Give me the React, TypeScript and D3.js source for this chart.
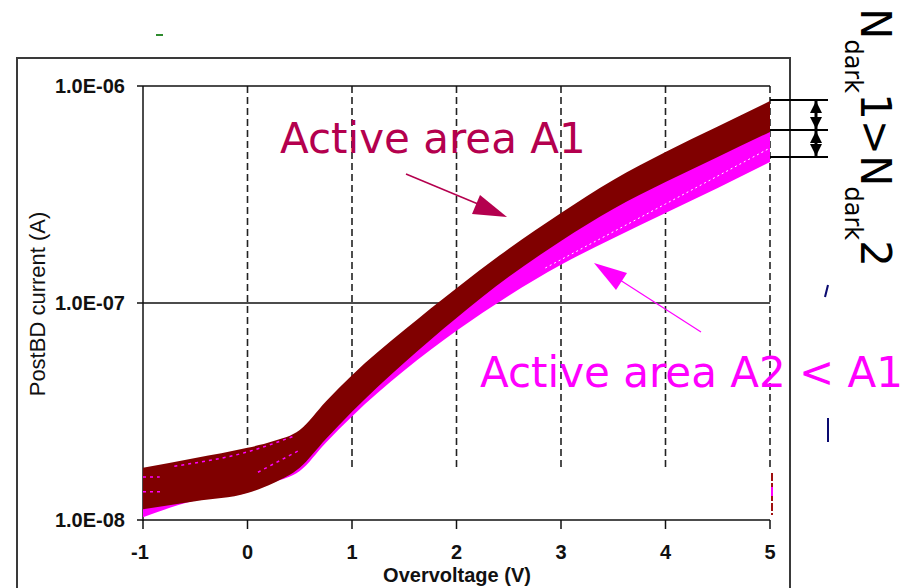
import React, { useEffect, useRef } from 'react';
import * as d3 from 'd3';

// Overvoltage sweep (V)
const voltages = [-1, -0.5, 0, 0.25, 0.5, 0.75, 1, 1.5, 2, 2.5, 3, 3.5, 4, 4.5, 5];

// Envelope of the A1 curve family (A)
const a1Upper = [1.74e-8, 1.93e-8, 2.15e-8, 2.31e-8, 2.6e-8, 3.52e-8, 4.65e-8, 7.5e-8, 1.17e-7, 1.78e-7, 2.6e-7, 3.69e-7, 4.96e-7, 6.5e-7, 8.53e-7];
const a1Lower = [1.12e-8, 1.22e-8, 1.33e-8, 1.48e-8, 1.74e-8, 2.36e-8, 3.15e-8, 5.3e-8, 8.53e-8, 1.32e-7, 1.93e-7, 2.71e-7, 3.61e-7, 4.71e-7, 6.14e-7];

// Envelope of the A2 curve family (A)
const a2Upper = [1.66e-8, 1.83e-8, 1.99e-8, 2.15e-8, 2.34e-8, 3.21e-8, 4.25e-8, 6.75e-8, 1.03e-7, 1.57e-7, 2.2e-7, 3.05e-7, 4.02e-7, 5.24e-7, 6.54e-7];
const a2Lower = [1.03e-8, 1.23e-8, 1.34e-8, 1.49e-8, 1.68e-8, 2.27e-8, 3.0e-8, 4.88e-8, 7.44e-8, 1.08e-7, 1.5e-7, 1.99e-7, 2.6e-7, 3.39e-7, 4.47e-7];

// single A2 curves showing through the A1 band at low bias
const streaks = [
  { v: [-0.7, 0, 0.45], i: [1.77e-8, 2.06e-8, 2.44e-8] },
  { v: [-1, -0.84], i: [1.58e-8, 1.58e-8] },
  { v: [-1, -0.82], i: [1.35e-8, 1.35e-8] },
  { v: [0.1, 0.5], i: [1.66e-8, 2.1e-8] },
];
const gapLineV = [2.85, 4, 5];
const gapLineI = [1.45e-7, 2.86e-7, 5.18e-7];

// N_dark bracket levels at 5 V
const bracketLevels = [8.62e-7, 6.27e-7, 4.71e-7];

const xTicks = [-1, 0, 1, 2, 3, 4, 5];
const yTicks = [1e-8, 1e-7, 1e-6];
const yTickLabels = ['1.0E-08', '1.0E-07', '1.0E-06'];

const W = 910;
const H = 588;

const App: React.FC = () => {
  const svgRef = useRef<SVGSVGElement>(null);

  useEffect(() => {
    if (!svgRef.current) return;
    const svg = d3.select(svgRef.current);
    svg.selectAll('*').remove();

    const x = d3.scaleLinear().domain([-1, 5]).range([143, 770]);
    const y = d3.scaleLog().domain([1e-8, 1e-6]).range([520, 86]);
    const axisFont = '"Liberation Sans", Arial, sans-serif';
    const noteFont = '"DejaVu Sans", sans-serif';

    svg.append('rect').attr('width', W).attr('height', H).attr('fill', '#fff');

    // outer frame
    svg.append('rect')
      .attr('x', 17).attr('y', 58)
      .attr('width', 773).attr('height', 560)
      .attr('fill', 'none').attr('stroke', '#3a3a3a').attr('stroke-width', 2);

    // small green dash above frame
    svg.append('line')
      .attr('x1', 156).attr('x2', 163).attr('y1', 35).attr('y2', 35)
      .attr('stroke', '#2e8b2e').attr('stroke-width', 2);

    const g = svg.append('g');

    // vertical dashed grid
    g.selectAll('.vgrid')
      .data(xTicks.slice(1))
      .enter().append('line')
      .attr('x1', d => x(d)).attr('x2', d => x(d))
      .attr('y1', y(1e-6)).attr('y2', 468)
      .attr('stroke', '#222').attr('stroke-width', 1.6)
      .attr('stroke-dasharray', '7,4');

    // horizontal solid lines at decades
    g.selectAll('.hgrid')
      .data(yTicks)
      .enter().append('line')
      .attr('x1', 137).attr('x2', x(5))
      .attr('y1', d => y(d)).attr('y2', d => y(d))
      .attr('stroke', '#111').attr('stroke-width', 1.5);

    // y axis
    g.append('line')
      .attr('x1', x(-1)).attr('x2', x(-1))
      .attr('y1', y(1e-6)).attr('y2', y(1e-8) + 1)
      .attr('stroke', '#111').attr('stroke-width', 1.5);

    // x ticks
    g.selectAll('.xtick')
      .data(xTicks)
      .enter().append('line')
      .attr('x1', d => x(d)).attr('x2', d => x(d))
      .attr('y1', y(1e-8)).attr('y2', y(1e-8) + 9)
      .attr('stroke', '#111').attr('stroke-width', 1.5);

    g.selectAll('.xlabel')
      .data(xTicks)
      .enter().append('text')
      .attr('x', d => x(d) - (d < 0 ? 3 : 0)).attr('y', 559)
      .attr('text-anchor', 'middle')
      .style('font-family', axisFont).style('font-weight', 'bold').style('font-size', '20px')
      .attr('fill', '#111')
      .text(d => String(d));

    g.selectAll('.ylabel')
      .data(yTicks)
      .enter().append('text')
      .attr('x', 125).attr('y', d => y(d) + 7)
      .attr('text-anchor', 'end')
      .style('font-family', axisFont).style('font-weight', 'bold').style('font-size', '20px')
      .attr('fill', '#111')
      .text((_, i) => yTickLabels[i]);

    svg.append('text')
      .attr('x', 457).attr('y', 582)
      .attr('text-anchor', 'middle')
      .style('font-family', axisFont).style('font-weight', 'bold').style('font-size', '20px')
      .attr('fill', '#111')
      .text('Overvoltage (V)');

    svg.append('text')
      .attr('transform', 'translate(45,304) rotate(-90)')
      .attr('text-anchor', 'middle')
      .style('font-family', axisFont).style('font-size', '22px')
      .attr('fill', '#111')
      .text('PostBD current (A)');

    // bands
    const band = (upper: number[], lower: number[]) =>
      d3.area<number>()
        .x((_, i) => x(voltages[i]))
        .y0((_, i) => y(lower[i]))
        .y1((_, i) => y(upper[i]))
        .curve(d3.curveMonotoneX)(voltages);

    g.append('path').attr('d', band(a2Upper, a2Lower)).attr('fill', '#ff00ff');
    g.append('path').attr('d', band(a1Upper, a1Lower)).attr('fill', '#800000');

    const line = d3.line<[number, number]>()
      .x(d => x(d[0]))
      .y(d => y(d[1]))
      .curve(d3.curveMonotoneX);

    streaks.forEach(s => {
      g.append('path')
        .attr('d', line(s.v.map((v, i) => [v, s.i[i]] as [number, number])))
        .attr('fill', 'none')
        .attr('stroke', '#ff00ff')
        .attr('stroke-width', 1.5)
        .attr('stroke-dasharray', '3,4');
    });

    g.append('path')
      .attr('d', line(gapLineV.map((v, i) => [v, gapLineI[i]] as [number, number])))
      .attr('fill', 'none')
      .attr('stroke', '#fff')
      .attr('stroke-width', 1)
      .attr('stroke-dasharray', '2,3');

    // stray trace at right edge
    g.append('line')
      .attr('x1', x(5) + 2).attr('x2', x(5) + 2).attr('y1', 473).attr('y2', 515)
      .attr('stroke', '#a01010').attr('stroke-width', 2).attr('stroke-dasharray', '8,2');
    g.append('line')
      .attr('x1', x(5) + 2).attr('x2', x(5) + 2).attr('y1', 487).attr('y2', 496)
      .attr('stroke', '#ff00ff').attr('stroke-width', 2);

    // N_dark brackets
    g.selectAll('.bracket')
      .data(bracketLevels)
      .enter().append('line')
      .attr('x1', x(5)).attr('x2', 828)
      .attr('y1', d => y(d)).attr('y2', d => y(d))
      .attr('stroke', '#000').attr('stroke-width', 2);

    const ax = 816;
    for (let k = 0; k < bracketLevels.length - 1; k++) {
      const y1 = y(bracketLevels[k]) + 1;
      const y2 = y(bracketLevels[k + 1]) - 1;
      g.append('line')
        .attr('x1', ax).attr('x2', ax).attr('y1', y1).attr('y2', y2)
        .attr('stroke', '#000').attr('stroke-width', 3);
      g.append('path')
        .attr('d', `M${ax},${y1}L${ax - 6},${y1 + 12}L${ax + 6},${y1 + 12}Z`)
        .attr('fill', '#000');
      g.append('path')
        .attr('d', `M${ax},${y2}L${ax - 6},${y2 - 12}L${ax + 6},${y2 - 12}Z`)
        .attr('fill', '#000');
    }

    // navy fragments outside the frame
    svg.append('line')
      .attr('x1', 825).attr('y1', 297).attr('x2', 828).attr('y2', 285)
      .attr('stroke', '#0a0a70').attr('stroke-width', 2);
    svg.append('line')
      .attr('x1', 828).attr('y1', 418).attr('x2', 828).attr('y2', 442)
      .attr('stroke', '#0a0a70').attr('stroke-width', 2);

    // annotations
    const a1Color = '#b4004e';
    svg.append('text')
      .attr('x', 280).attr('y', 153)
      .style('font-family', noteFont).style('font-size', '42px')
      .attr('fill', a1Color)
      .text('Active area A1');
    svg.append('line')
      .attr('x1', 406).attr('y1', 174).attr('x2', 478).attr('y2', 204)
      .attr('stroke', a1Color).attr('stroke-width', 1.5);
    svg.append('path')
      .attr('d', 'M507,217L480,195L472,214Z')
      .attr('fill', a1Color);

    svg.append('line')
      .attr('x1', 701).attr('y1', 332).attr('x2', 620).attr('y2', 280)
      .attr('stroke', '#ff00ff').attr('stroke-width', 1.2);
    svg.append('path')
      .attr('d', 'M594,263L627,273L616,290Z')
      .attr('fill', '#ff00ff');
    svg.append('text')
      .attr('x', 480).attr('y', 387)
      .style('font-family', noteFont).style('font-size', '42px')
      .attr('fill', '#ff00ff')
      .text('Active area A2 < A1');

    const nd = svg.append('text')
      .attr('transform', 'translate(861,8) rotate(90)')
      .style('font-family', noteFont).style('font-size', '42px')
      .attr('fill', '#000');
    nd.append('tspan').text('N');
    nd.append('tspan').attr('dy', 16).style('font-size', '24px').text('dark');
    nd.append('tspan').attr('dy', -16).text('1>N');
    nd.append('tspan').attr('dy', 16).style('font-size', '24px').text('dark');
    nd.append('tspan').attr('dy', -16).text('2');
  }, []);

  return (
    <svg
      ref={svgRef}
      width={W}
      height={H}
      style={{ position: 'absolute', left: 0, top: 0, display: 'block' }}
    />
  );
};

export default App;
